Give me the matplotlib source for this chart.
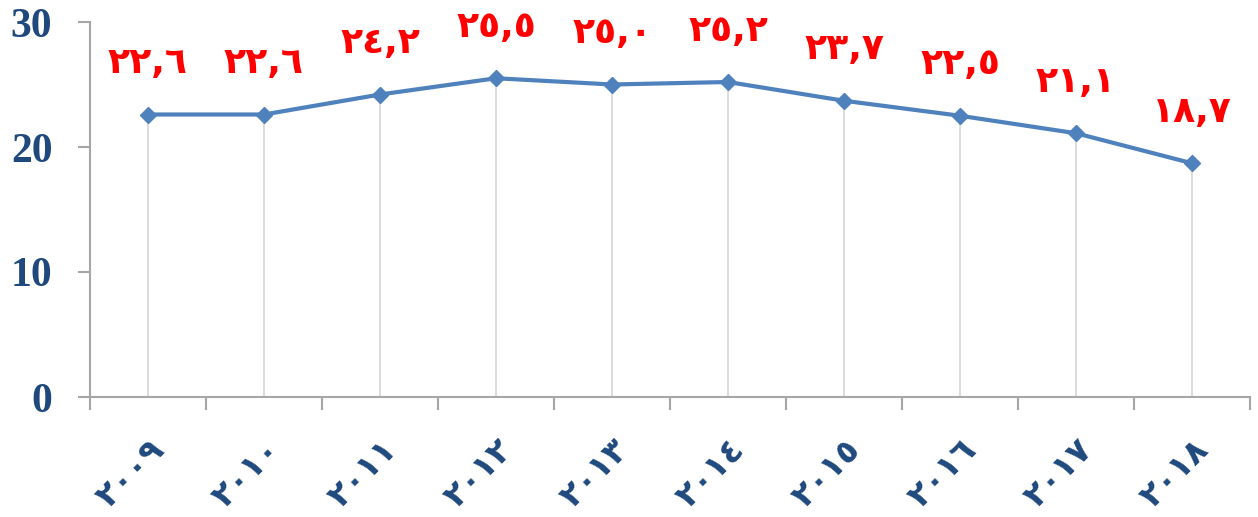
import numpy as np
import matplotlib
matplotlib.use("Agg")
import matplotlib.pyplot as plt

# Data
years = ['٢٠٠٩', '٢٠١٠', '٢٠١١', '٢٠١٢', '٢٠١٣', '٢٠١٤', '٢٠١٥', '٢٠١٦', '٢٠١٧', '٢٠١٨']
values = [22.6, 22.6, 24.2, 25.5, 25.0, 25.2, 23.7, 22.5, 21.1, 18.7]
value_labels = ['٢٢,٦', '٢٢,٦', '٢٤,٢', '٢٥,٥', '٢٥,٠', '٢٥,٢', '٢٣,٧', '٢٢,٥', '٢١,١', '١٨,٧']
y_ticks = [0, 10, 20, 30]

blue_line = '#4F81BD'
dark_blue = '#1F497D'
axis_gray = '#A6A6A6'

fig = plt.figure(figsize=(12.58, 5.17), dpi=100)
ax = fig.add_axes([90 / 1258, 1 - 397 / 517, 1160 / 1258, 375 / 517])

x = np.arange(len(values))
# drop lines from each point to the axis
ax.vlines(x, 0, values, color='#D9D9D9', linewidth=1.3, zorder=1)
ax.plot(x, values, color=blue_line, linewidth=3, marker='D', markersize=8,
        markerfacecolor=blue_line, markeredgecolor=blue_line, zorder=3)

# red value labels above points
for xi, yi, lab in zip(x, values, value_labels):
    ax.annotate(lab, (xi, yi), xytext=(0, 37), textcoords='offset points',
                ha='center', va='center', color='#FF0000', fontsize=26,
                fontweight='bold', family=['DejaVu Sans'])

ax.set_xlim(-0.5, len(values) - 0.5)
ax.set_ylim(0, 30)

# category labels at centres, tick marks at boundaries
ax.set_xticks(x)
ax.set_xticklabels(years, rotation=45, ha='right', va='top', rotation_mode='anchor',
                   color=dark_blue, fontsize=24, fontweight='bold', family=['DejaVu Sans'])
ax.tick_params(axis='x', which='major', length=0, pad=26)
ax.set_xticks(np.arange(-0.5, len(values)), minor=True)
ax.tick_params(axis='x', which='minor', length=9, width=1.5, color=axis_gray, direction='out')

ax.set_yticks(y_ticks)
ax.set_yticklabels([str(v) for v in y_ticks], color=dark_blue, fontsize=30,
                   fontweight='bold', family=['Liberation Serif'])
ax.tick_params(axis='y', length=9, width=1.5, color=axis_gray, direction='out', pad=18)

for side in ['top', 'right']:
    ax.spines[side].set_visible(False)
for side in ['left', 'bottom']:
    ax.spines[side].set_color(axis_gray)
    ax.spines[side].set_linewidth(1.5)

plt.savefig('out.png', dpi=100)
